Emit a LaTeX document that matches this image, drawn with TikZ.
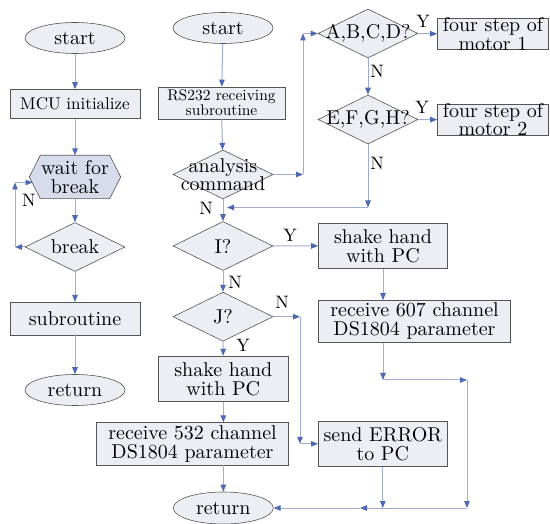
\documentclass[tikz,border=0pt]{standalone}
\usepackage{fontspec}
\setmainfont{lmroman10-regular.otf}
\usetikzlibrary{arrows.meta,shapes.geometric,backgrounds}
\definecolor{boxfill}{RGB}{236,238,244}
\definecolor{hexfill}{RGB}{214,220,236}
\definecolor{edgec}{RGB}{85,85,85}
\definecolor{connc}{RGB}{160,172,214}
\definecolor{tipc}{RGB}{78,104,178}
\begin{document}
\begin{tikzpicture}[x=1pt,y=-1pt,
  base/.style={draw=edgec, line width=0.6pt, fill=boxfill, inner sep=0pt, font=\fontsize{20}{19}\selectfont, align=center},
  term/.style={base, ellipse, minimum width=100pt, minimum height=31pt},
  proc/.style 2 args={base, rectangle, minimum width=#1, minimum height=#2},
  lbl/.style={inner sep=0pt, font=\fontsize{20}{18.5}\selectfont, align=center, text=black},
  dia/.style={base, diamond, minimum width=100pt, minimum height=49pt, label={[lbl]center:#1}},
  yn/.style={inner sep=0pt, font=\fontsize{18}{18}\selectfont},
  conn/.style={draw=connc, line width=1pt},
  arr/.style={conn, -{Triangle[length=7pt,width=5.5pt,color=tipc]}}
]
\useasboundingbox (0,0) rectangle (550,524);

% left column
\node[term] (ls) at (75,38) {start};
\node[proc={130}{29}, font=\fontsize{17}{17}\selectfont] (mcu) at (75,104) {MCU initialize};
\node[inner sep=0pt, minimum width=91pt, minimum height=43pt, font=\fontsize{20}{18.5}\selectfont, align=center] (wait) at (75,177) {wait for\\break};
\begin{scope}[on background layer]
\draw[draw=edgec, line width=0.6pt, fill=hexfill] (wait.west) -- ([xshift=11pt]wait.north west) -- ([xshift=-11pt]wait.north east) -- (wait.east) -- ([xshift=-11pt]wait.south east) -- ([xshift=11pt]wait.south west) -- cycle;
\end{scope}
\node[dia={break}] (brk) at (75,247) {};
\node[proc={130}{33}] (sub) at (75,318.7) {subroutine};
\node[term] (lr) at (75,390) {return};

% middle column
\node[term] (ms) at (223,28) {start};
\node[proc={127}{32}, font=\fontsize{15.5}{15}\selectfont] (rs) at (221.5,103) {RS232 receiving\\subroutine};
\node[dia={analysis\\command}] (ana) at (223,174.5) {};
\node[dia={A,B,C,D?}] (abcd) at (368,33.5) {};
\node[proc={111}{31}, label={[lbl]center:{four step of\\motor 1}}] (m1) at (493,34) {};
\node[dia={E,F,G,H?}] (efgh) at (368,119.5) {};
\node[proc={111}{31}, label={[lbl]center:{four step of\\motor 2}}] (m2) at (493,119.7) {};
\node[dia={I?}] (qi) at (223,246) {};
\node[proc={129}{45}] (shr) at (383,245.8) {shake hand\\with PC};
\node[proc={192}{42}] (r607) at (414.5,321.5) {receive 607 channel\\DS1804 parameter};
\node[dia={J?}] (qj) at (223,316.7) {};
\node[proc={130}{45.5}] (shl) at (223.3,378.8) {shake hand\\with PC};
\node[proc={192}{42.3}] (r532) at (192.5,443.8) {receive 532 channel\\DS1804 parameter};
\node[proc={129}{45.5}] (err) at (382.8,443.8) {send ERROR\\to PC};
\node[term, minimum height=32pt] (mr) at (223.3,508) {return};

% helper coordinates
\coordinate (lpA) at (15,247);
\coordinate (lpB) at (15,182.5);
\coordinate (hexin) at (32.5,182.5);
\coordinate (cA) at (303,174.5);
\coordinate (cB) at (303,33.5);
\coordinate (cC) at (368,207.5);
\coordinate (cD) at (227,207.5);
\coordinate (cE) at (383,380);
\coordinate (cF) at (467,380);
\coordinate (cG) at (467,508);
\coordinate (cH) at (360,508);
\coordinate (cJ) at (300,316.7);
\coordinate (cK) at (300,443.8);

% connectors left
\draw[arr] (ls) -- (mcu);
\draw[arr] (mcu) -- (wait);
\draw[arr] (wait) -- (brk);
\draw[arr] (brk) -- (sub);
\draw[arr] (sub) -- (lr);
\draw[arr] (brk.west) -- (lpA);
\draw[arr] (lpA) -- (lpB);
\draw[arr] (lpB) -- (hexin);

% connectors middle/right
\draw[arr] (ms) -- (rs);
\draw[arr] (rs) -- (ana);
\draw[arr] (ana.east) -- (cA);
\draw[arr] (cA) -- (cB);
\draw[arr] (cB) -- (abcd.west);
\draw[arr] (ana) -- (qi);
\draw[arr] (abcd) -- (m1);
\draw[arr] (abcd) -- (efgh);
\draw[arr] (efgh) -- (m2);
\draw[arr] (efgh) -- (cC);
\draw[arr] (cC) -- (cD);
\draw[arr] (qi) -- (shr);
\draw[arr] (qi) -- (qj);
\draw[arr] (shr.south) -- (shr.south |- r607.north);
\draw[arr] (shr.south |- r607.south) -- (cE);
\draw[arr] (cE) -- (cF);
\draw[arr] (cF) -- (cG);
\draw[arr] (cG) -- (cH);
\draw[arr] (cH) -- (mr.east);
\draw[arr] (err.south) -- (err.south |- mr.east);
\draw[arr] (qj.east) -- (cJ);
\draw[arr] (cJ) -- (cK);
\draw[arr] (cK) -- (err.west);
\draw[arr] (qj) -- (shl);
\draw[arr] (shl.south) -- (shl.south |- r532.north);
\draw[arr] (shl.south |- r532.south) -- (mr.north);

% Y/N labels
\node[yn] (nL) at (29,200) {N};
\node[yn] (nA) at (206,208) {N};
\node[yn] (y1) at (423,21.7) {Y};
\node[yn] (n1) at (377,71.7) {N};
\node[yn] (y2) at (422,107) {Y};
\node[yn] (n2) at (377,163) {N};
\node[yn] (yI) at (290,235) {Y};
\node[yn] (nI) at (235,282) {N};
\node[yn] (nJ) at (282,302) {N};
\node[yn] (yJ) at (243,345) {Y};
\end{tikzpicture}
\end{document}
